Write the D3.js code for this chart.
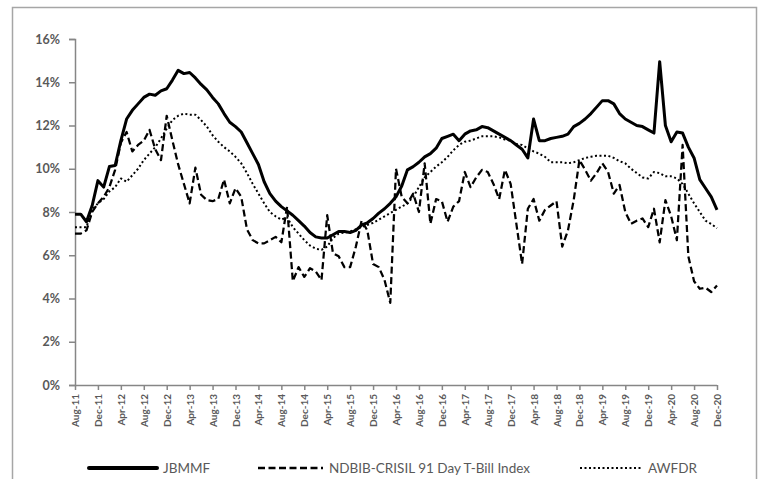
<!DOCTYPE html>
<html>
<head>
<meta charset="utf-8">
<script src="https://cdn.jsdelivr.net/npm/d3@7"></script>
<style>
  html, body { margin: 0; padding: 0; background: #fff; }
  svg { display: block; }
</style>
</head>
<body>
<svg id="chart" width="759" height="479"></svg>
<script>
// ---------- DATA ----------
const startMonth = new Date(2011, 7, 1);   // Aug-11
const endMonth = new Date(2021, 0, 1);     // exclusive (Dec-20 last)
const categories = d3.timeMonth.range(startMonth, endMonth).map(d3.timeFormat("%b-%y"));

const tickLabels = ["Aug-11","Dec-11","Apr-12","Aug-12","Dec-12","Apr-13","Aug-13","Dec-13",
  "Apr-14","Aug-14","Dec-14","Apr-15","Aug-15","Dec-15","Apr-16","Aug-16","Dec-16","Apr-17",
  "Aug-17","Dec-17","Apr-18","Aug-18","Dec-18","Apr-19","Aug-19","Dec-19","Apr-20","Aug-20","Dec-20"];

const yTicks = [0, 2, 4, 6, 8, 10, 12, 14, 16];

const seriesNames = ["JBMMF", "NDBIB-CRISIL 91 Day T-Bill Index", "AWFDR"];

const jbmmf = [7.9,7.9,7.55,8.3,9.45,9.15,10.1,10.15,11.3,12.3,12.7,13.0,13.3,13.45,13.4,13.6,13.7,14.1,
  14.55,14.4,14.45,14.2,13.9,13.65,13.3,13.0,12.55,12.15,11.95,11.7,11.2,10.7,10.2,9.4,8.85,8.5,
  8.25,8.05,7.85,7.6,7.35,7.05,6.85,6.8,6.8,6.95,7.1,7.1,7.05,7.15,7.4,7.5,7.7,7.95,8.15,8.4,
  8.7,9.2,9.95,10.1,10.3,10.55,10.7,10.95,11.4,11.5,11.6,11.3,11.6,11.75,11.8,11.95,11.9,11.75,
  11.6,11.45,11.3,11.1,10.9,10.5,12.3,11.3,11.3,11.4,11.45,11.5,11.6,11.95,12.1,12.3,12.55,12.85,
  13.15,13.15,13.0,12.55,12.3,12.15,12.0,11.95,11.8,11.65,14.95,12.0,11.25,11.7,11.65,11.0,10.5,
  9.5,9.1,8.7,8.1];

const ndbib = [7.0,7.0,7.15,8.0,8.4,8.7,9.15,9.95,11.2,11.7,10.8,11.1,11.3,11.8,10.9,10.4,12.45,11.3,
  10.2,9.3,8.4,10.05,8.8,8.55,8.5,8.6,9.5,8.4,9.1,8.7,7.2,6.7,6.55,6.55,6.7,6.85,
  6.6,8.25,4.8,5.45,5.0,5.4,5.25,4.85,7.85,6.1,5.95,5.45,5.45,6.4,7.6,7.15,5.6,5.45,4.85,3.8,
  10.0,8.7,8.4,8.85,8.0,10.25,7.45,8.6,8.5,7.55,8.25,8.5,9.85,9.15,9.6,9.95,9.85,9.3,
  8.6,9.95,9.3,7.45,5.6,8.15,8.6,7.6,8.1,8.3,8.5,6.4,7.15,8.55,10.4,9.95,9.45,9.8,
  10.25,9.85,8.85,9.25,8.0,7.45,7.6,7.7,7.3,8.15,6.6,8.55,7.8,6.7,11.1,5.95,4.8,
  4.45,4.5,4.3,4.6];

const awfdr = [7.3,7.3,7.3,8.1,8.4,8.6,8.95,9.15,9.55,9.4,9.7,10.0,10.4,10.7,11.0,11.4,11.85,12.25,
  12.45,12.55,12.5,12.5,12.25,11.95,11.55,11.25,11.0,10.8,10.55,10.25,9.8,9.3,8.85,8.4,8.0,7.8,
  7.65,7.75,7.3,7.0,6.7,6.45,6.3,6.25,6.4,6.8,7.0,7.05,7.1,7.2,7.3,7.4,7.5,7.65,7.8,7.95,
  8.1,8.25,8.4,8.7,9.15,9.6,9.85,10.1,10.3,10.55,10.85,11.1,11.25,11.3,11.4,11.5,11.5,11.5,
  11.45,11.35,11.3,11.15,11.1,10.95,10.8,10.7,10.55,10.3,10.3,10.3,10.25,10.3,10.4,10.5,10.55,10.6,
  10.6,10.6,10.5,10.35,10.25,10.0,9.8,9.6,9.55,9.85,9.8,9.65,9.65,9.55,9.3,8.85,8.4,
  8.0,7.6,7.45,7.25];

// ---------- CHART ----------
const svg = d3.select("#chart");
const plot = { left: 75, right: 717, top: 39, bottom: 385 };

const axisColor = "#868686";
const labelColor = "#595959";
const fontFamily = "Lato, 'Open Sans', 'Liberation Sans', sans-serif";

// outer chart border
svg.append("rect")
  .attr("x", 12.5).attr("y", 7.5)
  .attr("width", 744).attr("height", 490)
  .attr("fill", "none")
  .attr("stroke", "#a6a6a6")
  .attr("stroke-width", 1.5);

const x = d3.scalePoint().domain(categories).range([plot.left, plot.right]);
const y = d3.scaleLinear().domain([0, 16]).range([plot.bottom, plot.top]);

// Y axis
const yAxis = d3.axisLeft(y)
  .tickValues(yTicks)
  .tickSize(6)
  .tickPadding(9)
  .tickFormat(d => d + "%");
const gy = svg.append("g")
  .attr("transform", `translate(${plot.left},0)`)
  .call(yAxis);
gy.select(".domain").attr("stroke", axisColor).attr("stroke-width", 1.5);
gy.selectAll(".tick line").attr("stroke", axisColor).attr("stroke-width", 1.5);
gy.selectAll(".tick text")
  .attr("fill", labelColor)
  .style("font-family", fontFamily)
  .style("font-weight", "bold")
  .style("font-size", "12.5px");

// X axis
const tickCats = categories.filter(c => tickLabels.includes(c));
const xAxis = d3.axisBottom(x)
  .tickValues(tickCats)
  .tickFormat(c => tickLabels[tickCats.indexOf(c)])
  .tickSize(5)
  .tickSizeOuter(0)
  .tickPadding(4);
const gx = svg.append("g")
  .attr("transform", `translate(0,${plot.bottom})`)
  .call(xAxis);
gx.select(".domain").attr("stroke", axisColor).attr("stroke-width", 1.5)
  .attr("d", `M${plot.left},0.5H${plot.right}`);
gx.selectAll(".tick line").attr("stroke", axisColor).attr("stroke-width", 1.5);
gx.selectAll(".tick text")
  .attr("fill", labelColor)
  .style("font-family", fontFamily)
  .style("font-weight", "bold")
  .style("font-size", "10px")
  .attr("text-anchor", "end")
  .attr("dy", "0.35em")
  .attr("transform", "translate(0,3) rotate(-90)")
  .attr("x", -6)
  .attr("y", 0);

// Lines
const series = [
  { name: seriesNames[0], values: jbmmf, width: 3, dash: null },
  { name: seriesNames[1], values: ndbib, width: 2.25, dash: "7,3.5" },
  { name: seriesNames[2], values: awfdr, width: 2, dash: "2,2.5" }
];

const line = d3.line()
  .x((d, i) => x(categories[i]))
  .y(d => y(d));

const gLines = svg.append("g");
[2, 1, 0].forEach(k => {
  const s = series[k];
  gLines.append("path")
    .datum(s.values)
    .attr("fill", "none")
    .attr("stroke", "#000")
    .attr("stroke-width", s.width)
    .attr("stroke-linejoin", "round")
    .attr("stroke-dasharray", s.dash)
    .attr("d", line);
});

// Legend
const legendY = 468;
const legendItems = [
  { s: series[0], x1: 89, x2: 157, tx: 163, w: 4 },
  { s: series[1], x1: 258, x2: 323, tx: 329, w: 2.5 },
  { s: series[2], x1: 580, x2: 641, tx: 648, w: 2 }
];
const gLeg = svg.append("g");
legendItems.forEach(it => {
  gLeg.append("line")
    .attr("x1", it.x1).attr("x2", it.x2)
    .attr("y1", legendY).attr("y2", legendY)
    .attr("stroke", "#000")
    .attr("stroke-width", it.w)
    .attr("stroke-linecap", it.s.dash ? "butt" : "round")
    .attr("stroke-dasharray", it.s.dash);
  gLeg.append("text")
    .attr("x", it.tx).attr("y", legendY)
    .attr("dy", "0.35em")
    .attr("fill", labelColor)
    .style("font-family", fontFamily)
    .style("font-size", "13.5px")
    .text(it.s.name);
});
</script>
</body>
</html>
